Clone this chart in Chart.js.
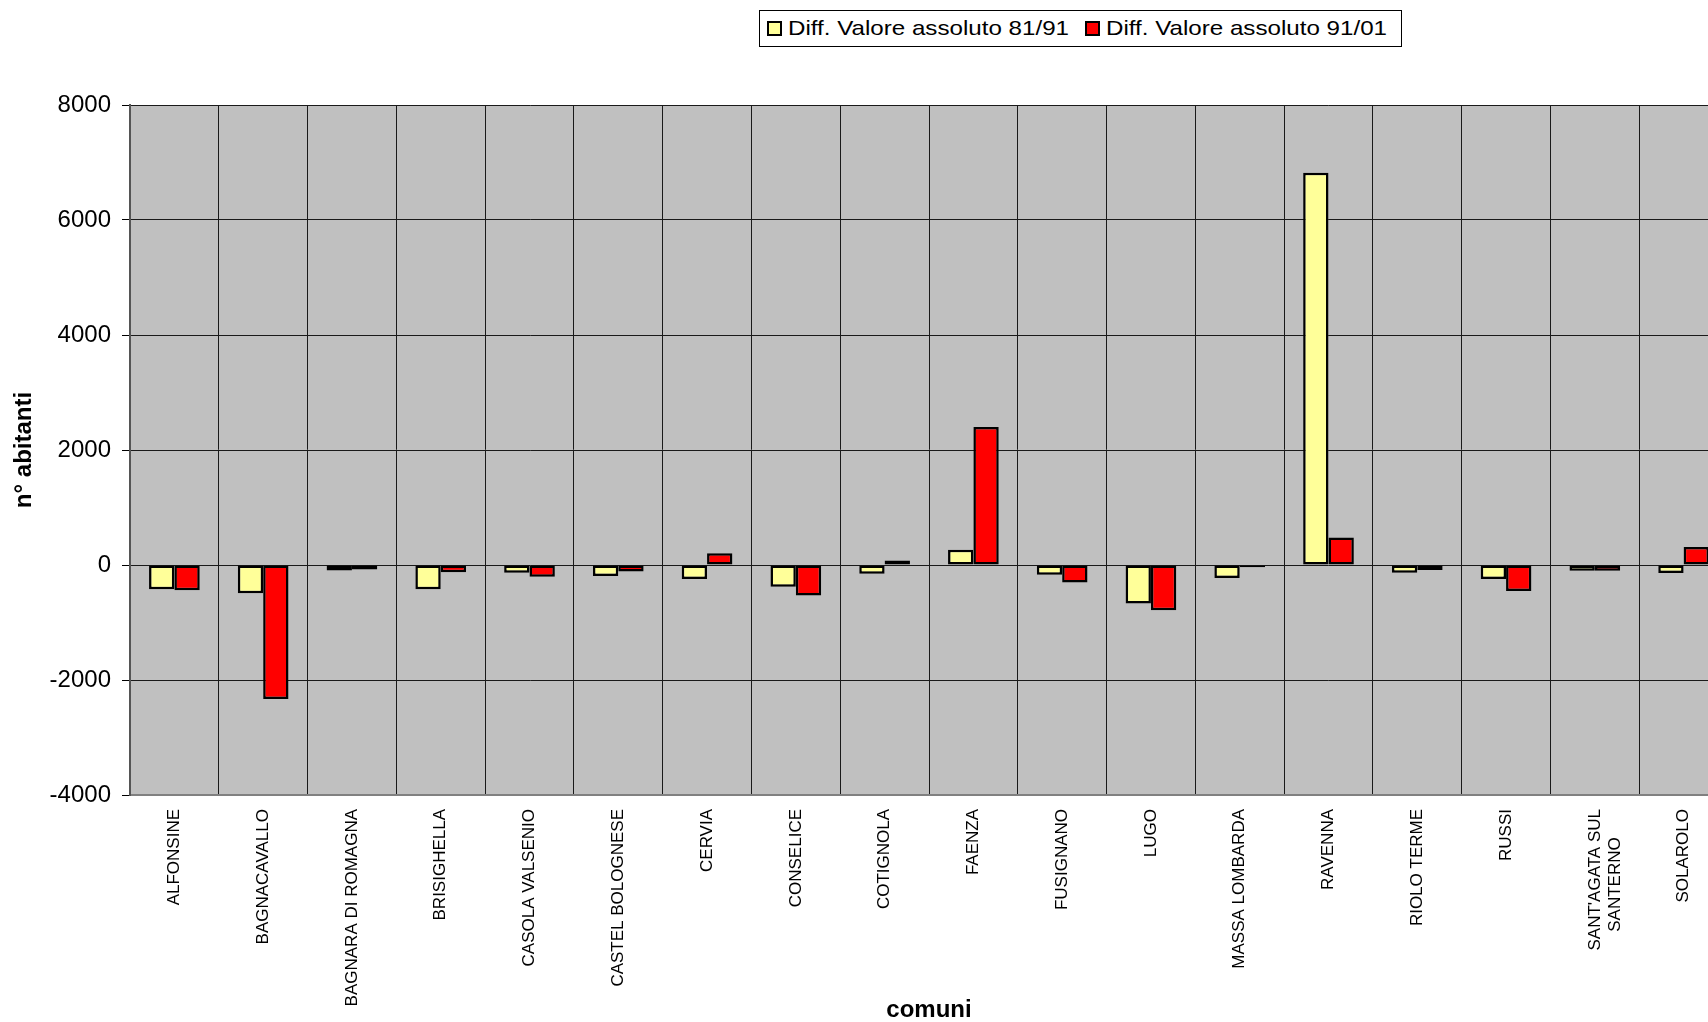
<!DOCTYPE html>
<html>
<head>
<meta charset="utf-8">
<title>Differenza popolazione comuni</title>
<script src="https://cdn.jsdelivr.net/npm/chart.js@4.4.1/dist/chart.umd.min.js"></script>
<style>
  html, body { margin: 0; padding: 0; background: #fff; overflow: hidden; }
  #wrap { position: relative; width: 1760px; height: 1022px; background: #fff; }
  #chart { position: absolute; left: 0; top: 0; }
  #legend {
    position: absolute; left: 759px; top: 10px; width: 641px; height: 35px;
    border: 1px solid #000; background: #fff;
    font-family: "Liberation Sans", Arial, sans-serif;
  }
  #legend .sw { position: absolute; width: 15px; height: 15px; box-sizing: border-box; border: 2px solid #000; }
  #legend .lt {
    position: absolute; font-size: 21px; line-height: 21px; white-space: nowrap; color: #000;
    transform-origin: 0 0; transform: scaleX(1.15);
  }
</style>
</head>
<body>
<div id="wrap">
  <canvas id="chart" width="1760" height="1022"></canvas>
  <div id="legend"></div>
</div>
<script>
// Comuni della provincia di Ravenna
const comuni = [
  'ALFONSINE', 'BAGNACAVALLO', 'BAGNARA DI ROMAGNA', 'BRISIGHELLA', 'CASOLA VALSENIO',
  'CASTEL BOLOGNESE', 'CERVIA', 'CONSELICE', 'COTIGNOLA', 'FAENZA', 'FUSIGNANO', 'LUGO',
  'MASSA LOMBARDA', 'RAVENNA', 'RIOLO TERME', 'RUSSI', ["SANT'AGATA SUL", 'SANTERNO      '], 'SOLAROLO'
];

// Differenza in valore assoluto degli abitanti, 1981-1991
const diff8191 = [-420, -490, -95, -420, -135, -190, -245, -380, -150, 265, -170, -670, -225, 6820, -135, -245, -100, -140];

// Differenza in valore assoluto degli abitanti, 1991-2001
const diff9101 = [-440, -2330, -80, -125, -205, -115, 205, -530, 80, 2400, -305, -785, -40, 480, -85, -450, -100, 315];

// Etichette dell'asse verticale
const yTicks = [-4000, -2000, 0, 2000, 4000, 6000, 8000];

const seriesNames = ['Diff. Valore assoluto 81/91', 'Diff. Valore assoluto 91/01'];
const seriesColors = ['#FFFF99', '#FF0000'];

Chart.defaults.font.family = '"Liberation Sans", Arial, sans-serif';
Chart.defaults.color = '#000';

// Sfondo grigio dell'area del grafico
const plotBackground = {
  id: 'plotBackground',
  beforeDraw(chart) {
    const { ctx, chartArea: a } = chart;
    ctx.save();
    ctx.fillStyle = '#C0C0C0';
    ctx.fillRect(a.left, a.top, a.right - a.left, a.bottom - a.top);
    ctx.restore();
  }
};

const barStyle = {
  borderColor: '#000',
  borderWidth: 2.5,
  borderSkipped: false,
  categoryPercentage: 0.571,
  barPercentage: 1
};

const chart = new Chart(document.getElementById('chart'), {
  type: 'bar',
  data: {
    labels: comuni,
    datasets: [
      Object.assign({ label: seriesNames[0], data: diff8191, backgroundColor: seriesColors[0] }, barStyle),
      Object.assign({ label: seriesNames[1], data: diff9101, backgroundColor: seriesColors[1] }, barStyle)
    ]
  },
  options: {
    responsive: false,
    animation: false,
    devicePixelRatio: 1,
    layout: { padding: { top: 105, right: 32, bottom: 0, left: 0 } },
    plugins: { legend: { display: false }, tooltip: { enabled: false } },
    scales: {
      x: {
        grid: { color: '#1a1a1a', lineWidth: 1, drawTicks: false, offset: true },
        border: { color: '#808080', width: 2 },
        ticks: { autoSkip: false, minRotation: 90, maxRotation: 90, padding: 14, font: { size: 17 }, color: '#000' },
        title: { display: true, text: 'comuni', font: { size: 24, weight: 'bold', lineHeight: 1.0 }, color: '#000', padding: { top: 0, bottom: 0 } },
        afterFit(scale) { scale.height = 227; }
      },
      y: {
        min: yTicks[0],
        max: yTicks[yTicks.length - 1],
        afterBuildTicks(scale) { scale.ticks = yTicks.map(v => ({ value: v })); },
        ticks: { padding: 11, font: { size: 24 }, color: '#000', callback: v => String(v) },
        grid: { color: '#1a1a1a', lineWidth: 1, tickLength: 8, tickColor: '#000' },
        border: { color: '#555', width: 2 },
        title: { display: true, text: 'n° abitanti', font: { size: 24, weight: 'bold' }, color: '#000', padding: { top: 10, bottom: 0 } },
        afterFit(scale) { scale.width = 130; }
      }
    }
  },
  plugins: [plotBackground]
});

// Legenda con riquadro, costruita dalle serie del grafico
const legend = document.getElementById('legend');
const itemPos = [{ sw: 7, tx: 28 }, { sw: 325, tx: 346 }];
chart.data.datasets.forEach((ds, i) => {
  const sw = document.createElement('div');
  sw.className = 'sw';
  sw.style.left = itemPos[i].sw + 'px';
  sw.style.top = '10px';
  sw.style.background = ds.backgroundColor;
  legend.appendChild(sw);
  const tx = document.createElement('div');
  tx.className = 'lt';
  tx.style.left = itemPos[i].tx + 'px';
  tx.style.top = '6px';
  tx.textContent = ds.label;
  legend.appendChild(tx);
});
</script>
</body>
</html>
